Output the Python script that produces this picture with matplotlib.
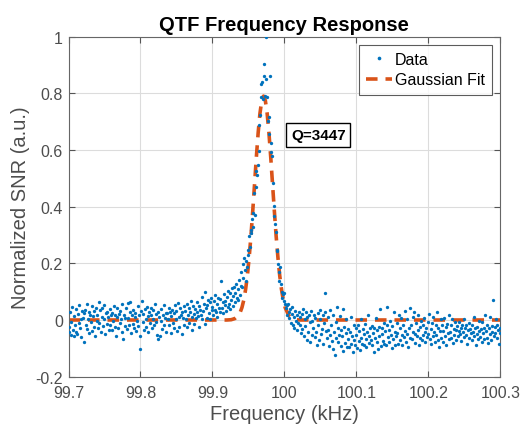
import numpy as np
import matplotlib
matplotlib.use("Agg")
import matplotlib.pyplot as plt

plt.rcParams['font.family'] = ['Liberation Sans', 'DejaVu Sans']

# ---- Data (normalized SNR, 1 Hz steps) ----
seg_a_start = 99.700
seg_a = [
    -0.023,-0.041,0.028,-0.052,-0.008,0.047,-0.034,-0.057,0.013,-0.018,0.039,-0.044,-0.049,0.021,-0.012,0.054,-0.027,0.004,-0.061,0.031,
    0.007,-0.078,0.024,0.036,-0.016,0.058,-0.031,0.002,0.027,-0.047,0.019,-0.006,0.049,-0.038,0.014,0.033,-0.024,-0.055,0.042,-0.003,
    0.018,-0.029,0.063,-0.011,0.034,-0.042,0.009,0.044,-0.021,0.005,0.052,-0.048,0.023,-0.014,0.029,0.011,-0.036,0.038,-0.017,0.016,
    -0.037,0.026,-0.004,0.051,-0.025,0.018,-0.058,0.012,0.041,-0.028,0.022,-0.009,0.032,0.003,-0.043,0.056,-0.068,0.017,0.008,-0.022,
    0.043,-0.033,0.059,0.006,-0.019,0.028,0.062,-0.046,0.016,-0.013,0.037,-0.027,0.011,0.024,-0.039,-0.002,0.048,-0.021,0.019,-0.057,
    -0.102,0.031,0.066,-0.007,0.022,-0.034,0.039,0.004,-0.024,0.046,0.013,-0.041,0.027,-0.011,0.017,0.043,-0.029,0.002,0.034,-0.018,
    0.057,-0.008,0.021,-0.053,0.029,-0.067,0.012,-0.058,0.038,-0.003,-0.032,0.018,0.052,-0.017,0.008,0.026,-0.043,0.023,0.004,0.041,
    -0.019,0.027,-0.047,0.013,0.036,-0.012,0.024,-0.028,0.053,0.002,0.031,-0.038,0.061,0.009,-0.023,0.042,0.016,-0.049,0.028,0.007,
    0.048,-0.016,0.033,0.004,0.058,-0.026,0.019,0.044,-0.009,0.027,0.068,0.012,-0.037,0.051,0.022,-0.014,0.039,0.006,0.063,0.029,
    0.013,0.049,-0.026,0.037,0.018,0.082,0.003,0.031,0.057,-0.014,0.098,0.042,0.008,0.053,0.071,0.024,0.064,0.004,0.077,0.036,
]
seg_b_start = 99.900
seg_b = [
    0.047,0.018,0.066,0.036,0.088,0.027,0.058,0.012,0.079,0.044,0.029,0.073,0.138,0.041,0.062,0.024,0.091,0.053,0.068,0.033,
    0.081,0.046,0.103,0.057,0.038,0.094,0.072,0.114,0.049,0.083,0.118,0.064,0.097,0.127,0.076,0.108,0.069,0.142,0.088,0.121,
    0.168,0.116,0.197,0.148,0.218,0.176,0.138,0.207,0.186,0.246,0.228,0.297,0.257,0.318,0.306,
]
seg_c_start = 99.955
seg_c = [
    0.358,0.327,0.377,0.448,0.372,0.468,0.527,0.512,0.548,0.596,
    0.688,0.724,0.786,0.832,0.838,0.781,0.902,0.862,0.791,0.850,
    1.000,0.787,0.702,0.718,0.655,0.862,0.591,0.624,0.578,0.482,
    0.402,0.368,0.338,0.311,0.248,0.242,0.198,0.168,0.137,0.186,
    0.128,0.098,0.077,0.092,0.068,0.097,0.057,0.041,0.052,0.018,
    0.058,0.027,0.008,0.038,-0.012,0.021,0.047,-0.018,0.012,-0.028,
    0.031,-0.004,-0.037,0.016,-0.009,
]
seg_e_start = 100.020
seg_e = [
    0.027,-0.018,0.009,-0.047,0.022,-0.031,0.038,-0.058,0.003,-0.022,0.028,-0.069,0.012,-0.043,0.017,-0.077,-0.008,0.033,-0.052,-0.004,
    -0.028,0.019,-0.061,0.008,-0.041,-0.088,0.026,-0.019,-0.072,0.004,0.037,-0.049,-0.032,0.016,-0.083,-0.012,0.029,0.094,-0.038,-0.063,
    0.011,-0.034,-0.091,0.036,-0.053,-0.017,-0.074,0.018,-0.103,-0.042,-0.124,-0.008,-0.062,0.046,-0.079,-0.027,-0.054,0.014,-0.093,-0.037,
    -0.058,0.038,-0.108,-0.023,-0.082,-0.047,0.002,-0.094,-0.031,-0.068,-0.097,-0.044,0.009,-0.083,-0.057,-0.113,-0.019,-0.072,-0.087,-0.028,
    -0.053,-0.098,-0.017,-0.074,-0.039,-0.107,-0.062,0.003,-0.084,-0.033,-0.089,-0.048,-0.013,-0.068,-0.096,-0.042,0.018,-0.058,-0.081,-0.027,
    -0.071,-0.022,-0.088,-0.046,-0.112,-0.029,-0.063,0.008,-0.077,-0.036,-0.101,-0.024,-0.057,0.038,-0.092,-0.049,-0.027,-0.073,-0.011,-0.084,
    -0.039,-0.087,-0.016,0.047,-0.061,-0.034,-0.078,-0.002,-0.052,-0.098,-0.021,-0.066,0.028,-0.043,-0.088,-0.058,-0.009,-0.047,-0.083,0.017,
    -0.027,-0.072,0.006,-0.053,-0.087,-0.018,-0.061,0.032,-0.038,-0.079,0.002,-0.051,-0.097,-0.029,0.041,-0.064,-0.016,-0.068,0.009,-0.042,
    0.028,-0.048,-0.081,-0.012,-0.057,0.016,-0.037,-0.088,-0.026,-0.063,-0.003,-0.072,-0.019,-0.054,0.007,-0.077,-0.041,-0.028,-0.059,-0.008,
    -0.048,0.021,-0.068,-0.032,-0.086,-0.011,-0.057,0.012,-0.043,-0.076,-0.018,-0.052,0.029,-0.071,-0.027,-0.097,-0.039,0.003,-0.062,-0.016,
    -0.079,-0.038,0.008,-0.058,-0.026,-0.087,-0.013,-0.047,0.018,-0.068,-0.042,-0.017,-0.063,0.004,-0.082,-0.031,-0.053,-0.008,-0.071,-0.036,
    -0.021,-0.058,-0.039,-0.006,-0.049,-0.027,-0.073,-0.016,-0.044,0.003,-0.061,-0.028,-0.052,-0.018,-0.083,-0.037,-0.011,-0.064,-0.033,-0.047,
    -0.072,-0.018,-0.042,0.012,-0.057,-0.027,-0.088,-0.049,-0.023,-0.068,-0.038,-0.002,-0.059,-0.032,-0.078,-0.008,-0.046,-0.029,-0.066,0.018,
    -0.038,-0.062,-0.017,-0.081,-0.028,0.009,-0.051,-0.069,-0.022,-0.043,0.072,-0.058,-0.026,-0.047,0.004,-0.019,-0.063,-0.037,-0.084,-0.029,
    -0.047,
]
freq_step = 0.001

fit_freq = [99.700, 99.920, 99.926, 99.931, 99.936, 99.9385, 99.941, 99.9435, 99.946, 99.9485,
            99.951, 99.9535, 99.956, 99.9585, 99.961, 99.9635, 99.966, 99.9685, 99.971,
            99.9735, 99.976, 99.9785, 99.981, 99.9835, 99.986, 99.9885, 99.991, 99.9935,
            99.996, 99.9985, 100.001, 100.006, 100.011, 100.016, 100.022, 100.300]
fit_snr = [0.0, 0.0, 0.001, 0.005, 0.016, 0.027, 0.044, 0.070, 0.107,
           0.156, 0.220, 0.296, 0.385, 0.479, 0.574, 0.660, 0.729, 0.774, 0.790,
           0.774, 0.729, 0.660, 0.574, 0.479, 0.385, 0.296, 0.220, 0.156,
           0.107, 0.070, 0.044, 0.016, 0.005, 0.001, 0.0, 0.0]

xticks = [99.7, 99.8, 99.9, 100.0, 100.1, 100.2, 100.3]
xticklabels = ["99.7", "99.8", "99.9", "100", "100.1", "100.2", "100.3"]
yticks = [-0.2, 0, 0.2, 0.4, 0.6, 0.8, 1.0]
yticklabels = ["-0.2", "0", "0.2", "0.4", "0.6", "0.8", "1"]

# ---- Build series ----
xs, ys = [], []
for start, seg in [(seg_a_start, seg_a), (seg_b_start, seg_b), (seg_c_start, seg_c), (seg_e_start, seg_e)]:
    xs.append(start + freq_step * np.arange(len(seg)))
    ys.append(np.array(seg))
x = np.concatenate(xs)
y = np.concatenate(ys)

fig = plt.figure(figsize=(5.25, 4.27), dpi=100)
ax = fig.add_axes([0.1305, 0.1155, 0.8225, 0.7965])

blue = '#0072BD'
orange = '#D95319'
gray = '#4D4D4D'

ax.plot(x, y, linestyle='none', marker='o', markersize=2.4, color=blue,
        markeredgewidth=0, label='Data', zorder=3)
ax.plot(fit_freq, fit_snr, linestyle=(0, (3.2, 2.2)), color=orange, linewidth=2.6,
        label='Gaussian Fit', zorder=2)

ax.set_xlim(99.7, 100.3)
ax.set_ylim(-0.2, 1.0)
ax.set_xticks(xticks)
ax.set_xticklabels(xticklabels)
ax.set_yticks(yticks)
ax.set_yticklabels(yticklabels)
ax.grid(True, color='#DCDCDC', linewidth=0.8)
ax.set_axisbelow(True)
ax.tick_params(direction='in', top=True, right=True, length=4, width=0.8,
               color='#555555', labelcolor=gray, labelsize=11.5)
ax.tick_params(axis='x', pad=6)
ax.tick_params(axis='y', pad=4)
for s in ax.spines.values():
    s.set_color('#666666')
    s.set_linewidth(0.8)

ax.set_title('QTF Frequency Response', fontsize=14.5, fontweight='bold', color='black', pad=5)
ax.set_xlabel('Frequency (kHz)', fontsize=14.5, color=gray, labelpad=3)
ax.set_ylabel('Normalized SNR (a.u.)', fontsize=14.5, color=gray, labelpad=4)

leg = ax.legend(loc='upper right', fontsize=11.5, frameon=True, fancybox=False,
                edgecolor='#333333', borderpad=0.45, handlelength=1.6,
                handletextpad=0.2, labelspacing=0.35, borderaxespad=0.5, markerscale=1.1)
leg.get_frame().set_linewidth(0.8)

ax.text(100.047, 0.653, 'Q=3447', fontsize=11, fontweight='bold', ha='center', va='center',
        bbox=dict(boxstyle='square,pad=0.3', facecolor='white', edgecolor='black', linewidth=1.0),
        zorder=5)

fig.savefig('out.png', dpi=100)
